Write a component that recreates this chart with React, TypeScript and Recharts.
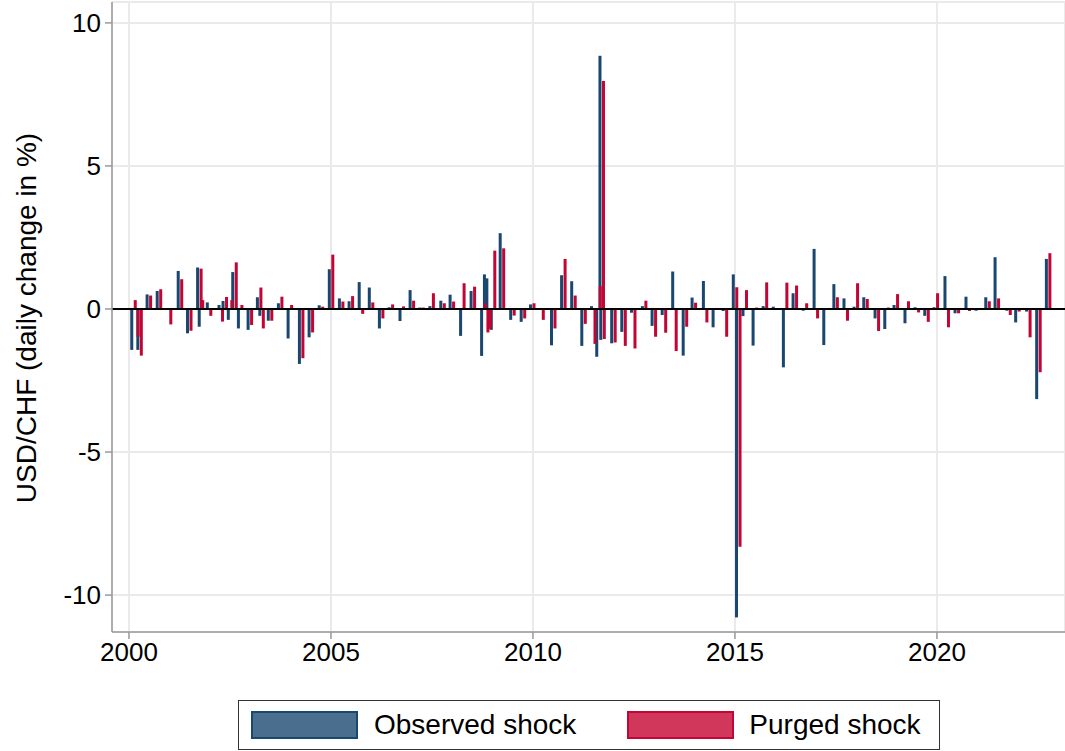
import { ComposedChart, Bar, XAxis, YAxis, CartesianGrid, ReferenceLine, Label } from 'recharts';

// shock dates (decimal years) and daily USD/CHF changes in %
const eventDates = [
  2000.07, 2000.14, 2000.22, 2000.45, 2000.7, 2000.95, 2001.22, 2001.45, 2001.7, 2001.74,
  2001.94, 2002.23, 2002.33, 2002.46, 2002.57, 2002.71, 2002.95, 2003.18, 2003.24, 2003.45,
  2003.7, 2003.94, 2004.22, 2004.46, 2004.71, 2004.96, 2005.21, 2005.45, 2005.7, 2005.95,
  2006.2, 2006.44, 2006.71, 2006.96, 2007.2, 2007.45, 2007.72, 2007.95, 2008.21, 2008.47,
  2008.73, 2008.8, 2008.86, 2008.97, 2009.19, 2009.45, 2009.71, 2009.94, 2010.17, 2010.46,
  2010.71, 2010.96, 2011.21, 2011.45, 2011.58, 2011.66, 2011.68, 2011.95, 2012.2, 2012.44,
  2012.71, 2012.95, 2013.2, 2013.46, 2013.72, 2013.94, 2014.22, 2014.46, 2014.71, 2014.96,
  2015.04, 2015.2, 2015.45, 2015.7, 2015.95, 2016.2, 2016.44, 2016.69, 2016.96, 2017.2,
  2017.45, 2017.7, 2017.95, 2018.19, 2018.47, 2018.71, 2018.94, 2019.21, 2019.46, 2019.7,
  2019.93, 2020.2, 2020.45, 2020.72, 2020.97, 2021.21, 2021.44, 2021.73, 2021.95, 2022.22,
  2022.47, 2022.71,
];

const observedShock = [
  -1.43, 0, -1.43, 0.51, 0.63, 0.02, 1.33, -0.85, 1.45, -0.62,
  0.23, 0.14, 0.28, -0.38, 1.29, -0.68, -0.73, 0.41, -0.24, -0.41,
  0.2, -1.03, -1.92, -0.99, 0.13, 1.39, 0.37, 0.27, 0.94, 0.75,
  -0.68, 0.06, -0.42, 0.66, 0.05, 0.1, 0.29, 0.5, -0.94, 0.63,
  -1.64, 1.21, 1.07, -0.73, 2.65, -0.38, -0.45, 0.16, -0.03, -1.27,
  1.18, 0.97, -1.29, 0.1, -1.67, 8.85, -1.08, -1.2, -0.8, -0.13,
  0.1, -0.59, -0.21, 1.31, -1.63, 0.4, 0.98, -0.64, -0.07, 1.21,
  -10.78, -0.25, -1.28, 0.1, 0.08, -2.04, 0.55, -0.06, 2.1, -1.26,
  0.87, 0.37, 0.08, 0.41, -0.33, -0.7, 0.14, -0.5, 0.06, -0.24,
  0.06, 1.15, -0.15, 0.43, -0.06, 0.41, 1.81, -0.06, -0.47, -0.09,
  -3.15, 1.75,
];

const purgedShock = [
  0.31, -0.97, -1.63, 0.47, 0.69, -0.54, 1.04, -0.76, 1.41, 0.31,
  -0.24, -0.44, 0.42, 0.31, 1.63, 0.14, -0.56, 0.75, -0.68, -0.41,
  0.43, 0.14, -1.72, -0.82, 0.08, 1.9, 0.26, 0.45, -0.17, 0.23,
  -0.33, 0.16, 0.09, 0.29, 0.05, 0.55, 0.2, 0.26, 0.9, 0.78,
  0.2, -0.82, -0.7, 2.04, 2.12, -0.23, -0.33, 0.2, -0.38, -0.68,
  1.75, 0.47, -0.52, -1.22, 0.8, 7.97, -1.05, -1.17, -1.29, -1.38,
  0.29, -0.97, -0.83, -1.47, -0.62, 0.22, -0.47, -0.03, -0.97, 0.76,
  -8.31, 0.66, 0.05, 0.93, -0.03, 0.92, 0.82, 0.2, -0.33, -0.03,
  0.41, -0.41, 0.9, 0.35, -0.77, 0.05, 0.52, 0.27, -0.12, -0.45,
  0.55, -0.64, -0.15, -0.07, 0.02, 0.27, 0.37, -0.21, -0.09, -0.99,
  -2.21, 1.95,
];

const yearTicks = [2000, 2005, 2010, 2015, 2020];
const valueTicks = [-10, -5, 0, 5, 10];

const data = eventDates.map((year, i) => ({
  year,
  observed: observedShock[i],
  purged: purgedShock[i],
}));

const BLUE = '#1a476f';
const RED = '#c10534';
const FONT = '"Liberation Sans", Arial, sans-serif';
const BAR_W = 3;

// Recharts shrinks grouped bars when dates sit close together, so keep a fixed
// width: observed bar centred on the date, purged bar right next to it.
// Negative values come with a negative height, so flip those.
const spanY = (p: any) => {
  const h = p.height ?? 0;
  return h < 0 ? { y: p.y + h, h: -h } : { y: p.y, h };
};
const ObservedShape = (p: any) => {
  const { y, h } = spanY(p);
  const date = p.x + p.width;
  return <rect x={date - BAR_W / 2} y={y} width={BAR_W} height={h} fill={BLUE} />;
};
const PurgedShape = (p: any) => {
  const { y, h } = spanY(p);
  const date = p.x;
  return <rect x={date + BAR_W / 2 + 0.5} y={y} width={BAR_W} height={h} fill={RED} />;
};

export default function App() {
  return (
    <div style={{ position: 'absolute', left: 0, top: 0, width: 1065, height: 751, background: '#fff', fontFamily: FONT }}>
      <ComposedChart
        width={1065}
        height={751}
        data={data}
        barGap={0}
        margin={{ top: 2, right: 0, bottom: 79, left: 0 }}
      >
        <CartesianGrid stroke="#eaeaea" strokeWidth={2} />
        <XAxis
          type="number"
          dataKey="year"
          domain={[1999.58, 2023.17]}
          ticks={yearTicks}
          allowDataOverflow
          height={40}
          axisLine={{ stroke: '#999', strokeWidth: 1.5 }}
          tickLine={{ stroke: '#999', strokeWidth: 1.5 }}
          tickSize={7}
          tick={{ fill: '#000', fontSize: 26, fontFamily: FONT }}
          tickMargin={4}
        />
        <YAxis
          type="number"
          domain={[-11.29, 10.73]}
          ticks={valueTicks}
          allowDataOverflow
          width={112}
          axisLine={{ stroke: '#999', strokeWidth: 1.5 }}
          tickLine={{ stroke: '#999', strokeWidth: 1.5 }}
          tickSize={7}
          tick={{ fill: '#000', fontSize: 26, fontFamily: FONT }}
          tickMargin={4}
        >
          <Label
            content={() => (
              <text
                x={26}
                y={318}
                transform="rotate(-90 26 318)"
                textAnchor="middle"
                dominantBaseline="central"
                fontSize={28}
                fontFamily={FONT}
                fill="#000"
              >
                USD/CHF (daily change in %)
              </text>
            )}
          />
        </YAxis>
        <Bar dataKey="observed" fill={BLUE} barSize={BAR_W} shape={ObservedShape} isAnimationActive={false} />
        <Bar dataKey="purged" fill={RED} barSize={BAR_W} shape={PurgedShape} isAnimationActive={false} />
        <ReferenceLine y={0} stroke="#000" strokeWidth={2} />
      </ComposedChart>

      <div
        style={{
          position: 'absolute',
          left: 238,
          top: 700,
          width: 702,
          height: 50,
          border: '1.5px solid #333',
          boxSizing: 'border-box',
          display: 'flex',
          alignItems: 'center',
          fontSize: 28,
          color: '#000',
        }}
      >
        <div style={{ marginLeft: 12, width: 107, height: 28, background: '#4a6e8e', border: `2px solid ${BLUE}`, boxSizing: 'border-box' }} />
        <span style={{ marginLeft: 16 }}>Observed shock</span>
        <div style={{ marginLeft: 51, width: 107, height: 28, background: '#d0375a', border: `2px solid ${RED}`, boxSizing: 'border-box' }} />
        <span style={{ marginLeft: 15 }}>Purged shock</span>
      </div>
    </div>
  );
}
